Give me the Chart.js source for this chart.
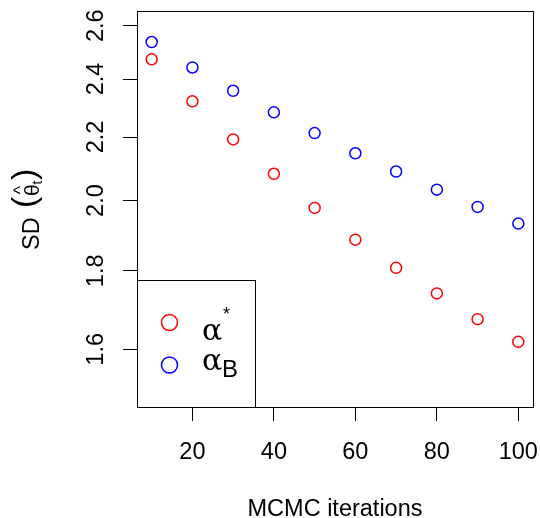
<!DOCTYPE html>
<html>
<head>
<meta charset="utf-8">
<script src="https://cdn.jsdelivr.net/npm/chart.js@4"></script>
<style>
  html, body { margin: 0; padding: 0; background: #fff; }
  #wrap { width: 540px; height: 518px; }
</style>
</head>
<body>
<div id="wrap"><canvas id="sdPlot"></canvas></div>
<script>
const iterations = [10, 20, 30, 40, 50, 60, 70, 80, 90, 100]
const sdAlphaStar = [2.472, 2.321, 2.192, 2.082, 1.978, 1.886, 1.808, 1.740, 1.674, 1.618]
const sdAlphaB = [2.537, 2.442, 2.358, 2.283, 2.213, 2.147, 2.089, 2.033, 1.981, 1.932]
const xTicks = [20, 40, 60, 80, 100]
const yTicks = [1.6, 1.8, 2.0, 2.2, 2.4, 2.6]

const sdPlot = document.getElementById("sdPlot")
const sansFont = "'Liberation Sans', Arial, Helvetica, sans-serif"

function toPoints(values) {
    let pts = []
    for (let i = 0; i < iterations.length; i++) {
        pts.push({ x: iterations[i], y: values[i] })
    }
    return pts
}

// R style: 4% padding, y on log scale with ylim 1.5 - 2.6
function logPad(lo, hi) {
    const a = Math.log(lo), b = Math.log(hi)
    const pad = (b - a) * 0.04
    return { min: Math.exp(a - pad), max: Math.exp(b + pad) }
}
const yRange = logPad(1.5, 2.6)

function noPadding(scale) {
    scale.paddingLeft = 0
    scale.paddingRight = 0
    scale.paddingTop = 0
    scale.paddingBottom = 0
}

const decorPlugin = {
    id: "decor",
    afterDraw(chart) {
        const ctx = chart.ctx
        const area = chart.chartArea
        ctx.save()
        ctx.strokeStyle = "#000"
        ctx.lineWidth = 1
        ctx.strokeRect(area.left + 0.5, area.top + 0.5, area.right - area.left, area.bottom - area.top)

        // legend box, bottom left
        const lx = area.left + 0.5, ly = 280.5
        ctx.strokeRect(lx, ly, 118, area.bottom - ly + 0.5)
        ctx.lineWidth = 1.5
        ctx.strokeStyle = "#FF0000"
        ctx.beginPath(); ctx.arc(169.5, 322.5, 8, 0, Math.PI * 2); ctx.stroke()
        ctx.strokeStyle = "#0000FF"
        ctx.beginPath(); ctx.arc(169.5, 365, 8, 0, Math.PI * 2); ctx.stroke()

        ctx.fillStyle = "#000"
        ctx.textAlign = "left"
        ctx.textBaseline = "alphabetic"
        ctx.font = "30px 'DejaVu Serif', serif"
        ctx.fillText("α", 202, 340)
        ctx.fillText("α", 202, 370)
        ctx.font = "18px " + sansFont
        ctx.fillText("*", 223, 320)
        ctx.font = "24px " + sansFont
        ctx.fillText("B", 222, 377)

        // x title
        ctx.font = "23.5px " + sansFont
        ctx.textAlign = "center"
        ctx.fillText("MCMC iterations", (area.left + area.right) / 2, 516)

        // y title, rotated
        ctx.translate(39, 250)
        ctx.rotate(-Math.PI / 2)
        ctx.textAlign = "left"
        ctx.font = "23.5px " + sansFont
        ctx.fillText("SD", 0, 0)
        ctx.font = "34px " + sansFont
        ctx.fillText("(", 42, -4)
        ctx.fillText(")", 70, -4)
        ctx.font = "21px " + sansFont
        ctx.fillText("θ", 54, 0)
        ctx.textAlign = "center"
        ctx.font = "18px " + sansFont
        ctx.fillText("^", 60, -13)
        ctx.textAlign = "left"
        ctx.font = "14px " + sansFont
        ctx.fillText("t", 65.5, 3)
        ctx.restore()
    }
}

new Chart(sdPlot, {
    type: "scatter",
    data: {
        datasets: [{
            label: "alpha*",
            data: toPoints(sdAlphaStar),
            borderColor: "#FF0000",
            backgroundColor: "rgba(0,0,0,0)",
            pointRadius: 5.5,
            pointBorderWidth: 1.5,
            pointHoverRadius: 5.5
        }, {
            label: "alpha_B",
            data: toPoints(sdAlphaB),
            borderColor: "#0000FF",
            backgroundColor: "rgba(0,0,0,0)",
            pointRadius: 5.5,
            pointBorderWidth: 1.5,
            pointHoverRadius: 5.5
        }]
    },
    options: {
        responsive: true,
        maintainAspectRatio: false,
        animation: false,
        layout: { padding: { top: 11, right: 7, left: 0, bottom: 0 } },
        plugins: { legend: { display: false }, tooltip: { enabled: false } },
        scales: {
            x: {
                type: "linear",
                min: 6.4,
                max: 103.6,
                bounds: "data",
                afterBuildTicks: (scale) => { scale.ticks = xTicks.map(v => ({ value: v })) },
                afterFit: (scale) => { scale.height = 111; noPadding(scale) },
                grid: { drawOnChartArea: false, drawTicks: true, tickLength: 14, color: "#000", tickWidth: 1 },
                border: { display: false },
                ticks: { autoSkip: false, maxRotation: 0, padding: 17, color: "#000", font: { family: sansFont, size: 23.5 } }
            },
            y: {
                type: "logarithmic",
                min: yRange.min,
                max: yRange.max,
                bounds: "data",
                afterBuildTicks: (scale) => { scale.ticks = yTicks.map(v => ({ value: v })) },
                afterFit: (scale) => { scale.width = 137; noPadding(scale) },
                grid: { drawOnChartArea: false, drawTicks: true, tickLength: 14, color: "#000", tickWidth: 1 },
                border: { display: false },
                ticks: {
                    autoSkip: false,
                    minRotation: 90,
                    maxRotation: 90,
                    crossAlign: "center",
                    padding: 10,
                    color: "#000",
                    font: { family: sansFont, size: 23.5 },
                    callback: (v) => Number(v).toFixed(1)
                }
            }
        }
    },
    plugins: [decorPlugin]
})
</script>
</body>
</html>
